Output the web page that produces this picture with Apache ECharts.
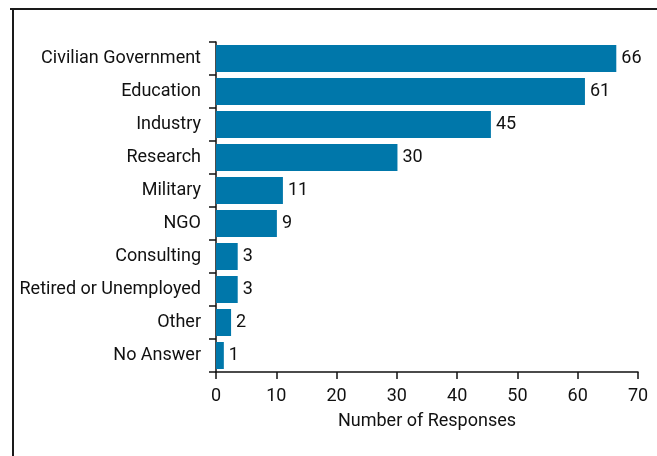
<!DOCTYPE html>
<html>
<head>
<meta charset="utf-8">
<script src="https://cdn.jsdelivr.net/npm/echarts@6/dist/echarts.min.js"></script>
<style>
  html, body { margin: 0; padding: 0; background: #fff; }
  #chart { width: 657px; height: 456px; }
</style>
</head>
<body>
<div id="chart"></div>
<script>
// categories top to bottom
var categories = ['Civilian Government', 'Education', 'Industry', 'Research', 'Military',
                  'NGO', 'Consulting', 'Retired or Unemployed', 'Other', 'No Answer'];
// bar lengths as drawn in the picture
var barValues = [66.4, 61.2, 45.6, 30.1, 11.1, 10.1, 3.6, 3.6, 2.5, 1.3];
// numbers printed next to the bars
var barLabels = [66, 61, 45, 30, 11, 9, 3, 3, 2, 1];
var xTicks = [0, 10, 20, 30, 40, 50, 60, 70];

var font = 'Roboto, "Liberation Sans", sans-serif';
var chart = echarts.init(document.getElementById('chart'));

chart.setOption({
  animation: false,
  graphic: [
    { type: 'line', shape: { x1: 10, y1: 9, x2: 657, y2: 9 }, style: { stroke: '#1a1a1a', lineWidth: 2 } },
    { type: 'line', shape: { x1: 13, y1: 8, x2: 13, y2: 456 }, style: { stroke: '#1a1a1a', lineWidth: 2 } }
  ],
  grid: { left: 216, right: 19, top: 42, bottom: 84 },
  xAxis: {
    type: 'value',
    min: xTicks[0],
    max: xTicks[xTicks.length - 1],
    interval: 10,
    name: 'Number of Responses',
    nameLocation: 'middle',
    nameGap: 40,
    nameTextStyle: { fontFamily: font, fontSize: 18, color: '#111' },
    splitLine: { show: false },
    axisLine: { show: true, lineStyle: { color: '#111', width: 1.5 } },
    axisTick: { show: true, length: 7, lineStyle: { color: '#111', width: 1.5 } },
    axisLabel: { fontFamily: font, fontSize: 18, color: '#111', margin: 15 }
  },
  yAxis: {
    type: 'category',
    inverse: true,
    data: categories,
    axisLine: { show: true, lineStyle: { color: '#111', width: 1.5 } },
    axisTick: { show: true, length: 7, lineStyle: { color: '#111', width: 1.5 } },
    axisLabel: { fontFamily: font, fontSize: 18, color: '#111', margin: 15 }
  },
  series: [{
    type: 'bar',
    data: barValues,
    barCategoryGap: '18%',
    itemStyle: { color: '#0077aa' },
    label: {
      show: true,
      position: 'right',
      distance: 5,
      fontFamily: font,
      fontSize: 18,
      color: '#111',
      formatter: function (p) { return barLabels[p.dataIndex]; }
    }
  }]
});
</script>
</body>
</html>
